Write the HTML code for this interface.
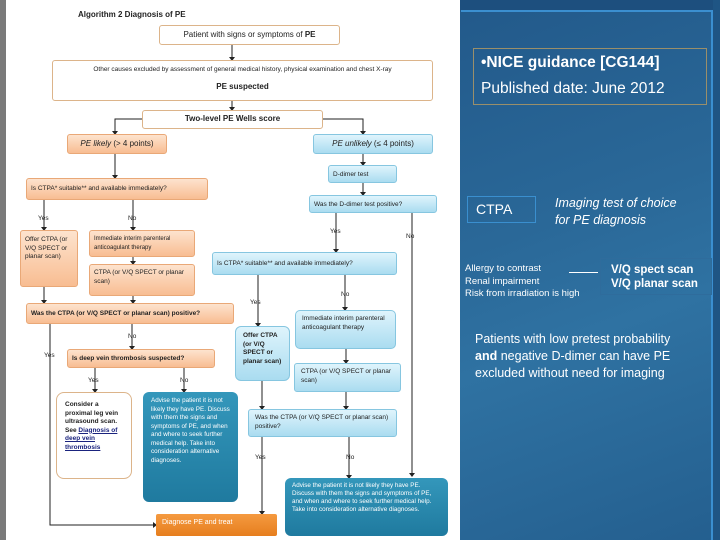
<!DOCTYPE html>
<html><head><meta charset="utf-8"><style>
*{margin:0;padding:0;box-sizing:border-box}
body{width:720px;height:540px;overflow:hidden;background:#fff;font-family:"Liberation Sans",sans-serif;position:relative}
.b{position:absolute;font-size:6.5px;line-height:8.5px;color:#222;border-radius:3px;padding:2px 4px}
.w{background:#fff;border:1.5px solid #dcb48a;font-weight:bold}
.o{background:linear-gradient(#fde3ce,#f8bd92);border:1px solid #e9a877}
.bl{background:linear-gradient(#dff4fc,#aadcf0);border:1px solid #86c6e0}
.t{background:linear-gradient(#3497bb,#1f7a9f);color:#fff;border-radius:6px}
.lb{position:absolute;font-size:6.5px;color:#222}
.c{display:flex;align-items:center;justify-content:center;text-align:center}
</style></head><body>
<div style="position:absolute;left:0;top:0;width:6px;height:540px;background:#7a7a7a"></div>
<div style="position:absolute;left:78px;top:10px;font-size:8px;font-weight:bold;color:#222">Algorithm 2 Diagnosis of PE</div>

<svg style="position:absolute;left:0;top:0" width="460" height="540">
<g stroke="#222" stroke-width="1" fill="none">
<path d="M232 44V60M232 74V80M232 100V110M323 119H363V134M142 119H115V134M115 154V178M44 200V230M133 200V230M133 257V264M44 287V303M133 296V303M132 324V349M50 324V525H156M95 368V392M184 368V392M336 213V252M412 213V476M345 275V310M258 275V326M346 349V363M262 381V409M346 392V409M262 437V514M349 437V478"/>
<path d="M363 154V165M363 183V195"/>
</g>
<g fill="#222">
<path d="M229 57l3 4 3-4zM360 131l3 4 3-4zM112 131l3 4 3-4zM112 175l3 4 3-4zM41 227l3 4 3-4zM130 227l3 4 3-4zM130 261l3 4 3-4zM41 300l3 4 3-4zM130 300l3 4 3-4zM129 346l3 4 3-4zM92 389l3 4 3-4zM181 389l3 4 3-4zM153 522l4 3-4 3zM409 473l3 4 3-4zM342 307l3 4 3-4zM255 323l3 4 3-4zM343 360l3 4 3-4zM259 406l3 4 3-4zM343 406l3 4 3-4zM259 511l3 4 3-4zM346 475l3 4 3-4zM333 249l3 4 3-4zM360 162l3 4 3-4zM360 192l3 4 3-4zM229 107l3 4 3-4z"/>
</g>
</svg>

<div class="b w c" style="left:159px;top:25px;width:181px;height:20px;font-size:8px;font-weight:normal">Patient with signs or symptoms of <b>&nbsp;PE</b></div>
<div class="b w" style="left:52px;top:60px;width:381px;height:41px;font-weight:normal;text-align:center"><div style="font-size:6.5px;margin-top:3px">Other causes excluded by assessment of general medical history, physical examination and chest X-ray</div><div style="font-size:8px;font-weight:bold;margin-top:8px">PE suspected</div></div>
<div class="b w c" style="left:142px;top:110px;width:181px;height:19px;font-size:8px">Two-level PE Wells score</div>
<div class="b o c" style="left:67px;top:134px;width:100px;height:20px;font-size:8px"><i>PE likely</i>&nbsp;(&gt; 4 points)</div>
<div class="b bl c" style="left:313px;top:134px;width:120px;height:20px;font-size:8px"><i>PE unlikely</i>&nbsp;(≤ 4 points)</div>
<div class="b bl" style="left:328px;top:165px;width:69px;height:18px;padding-top:5px">D-dimer test</div>
<div class="b bl" style="left:309px;top:195px;width:128px;height:18px;padding-top:5px">Was the D-dimer test positive?</div>
<div class="b o" style="left:26px;top:178px;width:182px;height:22px;padding-top:6px">Is CTPA* suitable** and available immediately?</div>
<div class="b o" style="left:20px;top:230px;width:58px;height:57px;padding-top:5px">Offer CTPA (or V/Q SPECT or planar scan)</div>
<div class="b o" style="left:89px;top:230px;width:106px;height:27px;padding-top:4px;font-size:6px">Immediate interim parenteral anticoagulant therapy</div>
<div class="b o" style="left:89px;top:264px;width:106px;height:32px;padding-top:4px">CTPA (or V/Q SPECT or planar scan)</div>
<div class="b bl" style="left:212px;top:252px;width:185px;height:23px;padding-top:7px">Is CTPA* suitable** and available immediately?</div>
<div class="b o" style="left:26px;top:303px;width:208px;height:21px;padding-top:6px;font-weight:bold">Was the CTPA (or V/Q SPECT or planar scan) positive?</div>
<div class="b o" style="left:67px;top:349px;width:148px;height:19px;padding-top:5px;font-weight:bold">Is deep vein thrombosis suspected?</div>
<div class="b w" style="left:56px;top:392px;width:76px;height:87px;padding:8px 8px;border-radius:8px;font-weight:bold">Consider a proximal leg vein ultrasound scan. See <u style="color:#1a237e">Diagnosis of deep vein thrombosis</u></div>
<div class="b t" style="left:143px;top:392px;width:95px;height:110px;padding:5px 8px;font-size:6.3px">Advise the patient it is not likely they have PE. Discuss with them the signs and symptoms of PE, and when and where to seek further medical help. Take into consideration alternative diagnoses.</div>
<div class="b bl" style="left:235px;top:326px;width:55px;height:55px;padding:5px 7px;border-radius:6px;font-weight:bold">Offer CTPA (or V/Q SPECT or planar scan)</div>
<div class="b bl" style="left:295px;top:310px;width:101px;height:39px;padding:4px 6px;border-radius:5px">Immediate interim parenteral anticoagulant therapy</div>
<div class="b bl" style="left:294px;top:363px;width:107px;height:29px;padding:4px 6px">CTPA (or V/Q SPECT or planar scan)</div>
<div class="b bl" style="left:248px;top:409px;width:149px;height:28px;padding:4px 6px">Was the CTPA (or V/Q SPECT or planar scan) positive?</div>
<div class="b t" style="left:285px;top:478px;width:163px;height:58px;padding:4px 7px;font-size:6.3px;line-height:8px">Advise the patient it is not likely they have PE. Discuss with them the signs and symptoms of PE, and when and where to seek further medical help. Take into consideration alternative diagnoses.</div>
<div class="b" style="left:156px;top:514px;width:121px;height:22px;background:linear-gradient(#f59a40,#e67e1e);color:#fff;padding:5px 6px;font-size:7px;border-radius:2px">Diagnose PE and treat</div>

<div class="lb" style="left:38px;top:215px">Yes</div>
<div class="lb" style="left:128px;top:215px">No</div>
<div class="lb" style="left:330px;top:228px">Yes</div>
<div class="lb" style="left:406px;top:233px">No</div>
<div class="lb" style="left:341px;top:291px">No</div>
<div class="lb" style="left:250px;top:299px">Yes</div>
<div class="lb" style="left:128px;top:333px">No</div>
<div class="lb" style="left:44px;top:352px">Yes</div>
<div class="lb" style="left:88px;top:377px">Yes</div>
<div class="lb" style="left:180px;top:377px">No</div>
<div class="lb" style="left:255px;top:454px">Yes</div>
<div class="lb" style="left:346px;top:454px">No</div>

<div style="position:absolute;left:460px;top:0;width:260px;height:540px;background:linear-gradient(160deg,#22598a 0%,#2a6898 40%,#2f72a2 60%,#245f8f 100%)"></div>
<div style="position:absolute;left:460px;top:0;width:260px;height:10px;background:#1d4f7e"></div>
<div style="position:absolute;left:461px;top:10px;width:252px;height:2px;background:#3b8fd0"></div>
<div style="position:absolute;left:711px;top:10px;width:2px;height:530px;background:#3b8fd0"></div>
<div style="position:absolute;left:713px;top:0;width:7px;height:540px;background:#1f5584"></div>

<div style="position:absolute;left:473px;top:48px;width:234px;height:57px;border:1px solid #9a8f6a;color:#fff;font-weight:bold;font-size:15.5px;line-height:26px;padding:1px 7px">•NICE guidance [CG144]<br><span style="font-weight:normal">Published date: June 2012</span></div>
<div style="position:absolute;left:467px;top:196px;width:69px;height:27px;border:1px solid #3a8fcf;color:#fff;font-size:14px;padding:4px 8px">CTPA</div>
<div style="position:absolute;left:555px;top:195px;color:#fff;font-size:12.5px;font-style:italic;line-height:17px">Imaging test of choice<br>for PE diagnosis</div>
<div style="position:absolute;left:465px;top:263px;color:#fff;font-size:9.5px;line-height:12.5px">Allergy to contrast<br>Renal impairment<br>Risk from irradiation is high</div>
<div style="position:absolute;left:569px;top:272px;width:29px;height:1px;background:#fff"></div>
<div style="position:absolute;left:600px;top:258px;width:112px;height:37px;border:1px solid #2f6c9c;color:#fff;font-weight:bold;font-size:11.5px;line-height:14px;padding:4px 10px">V/Q spect scan<br>V/Q planar scan</div>
<div style="position:absolute;left:475px;top:331px;color:#fff;font-size:12.5px;line-height:17px">Patients with low pretest probability<br><b>and</b> negative D-dimer can have PE<br>excluded without need for imaging</div>
</body></html>
